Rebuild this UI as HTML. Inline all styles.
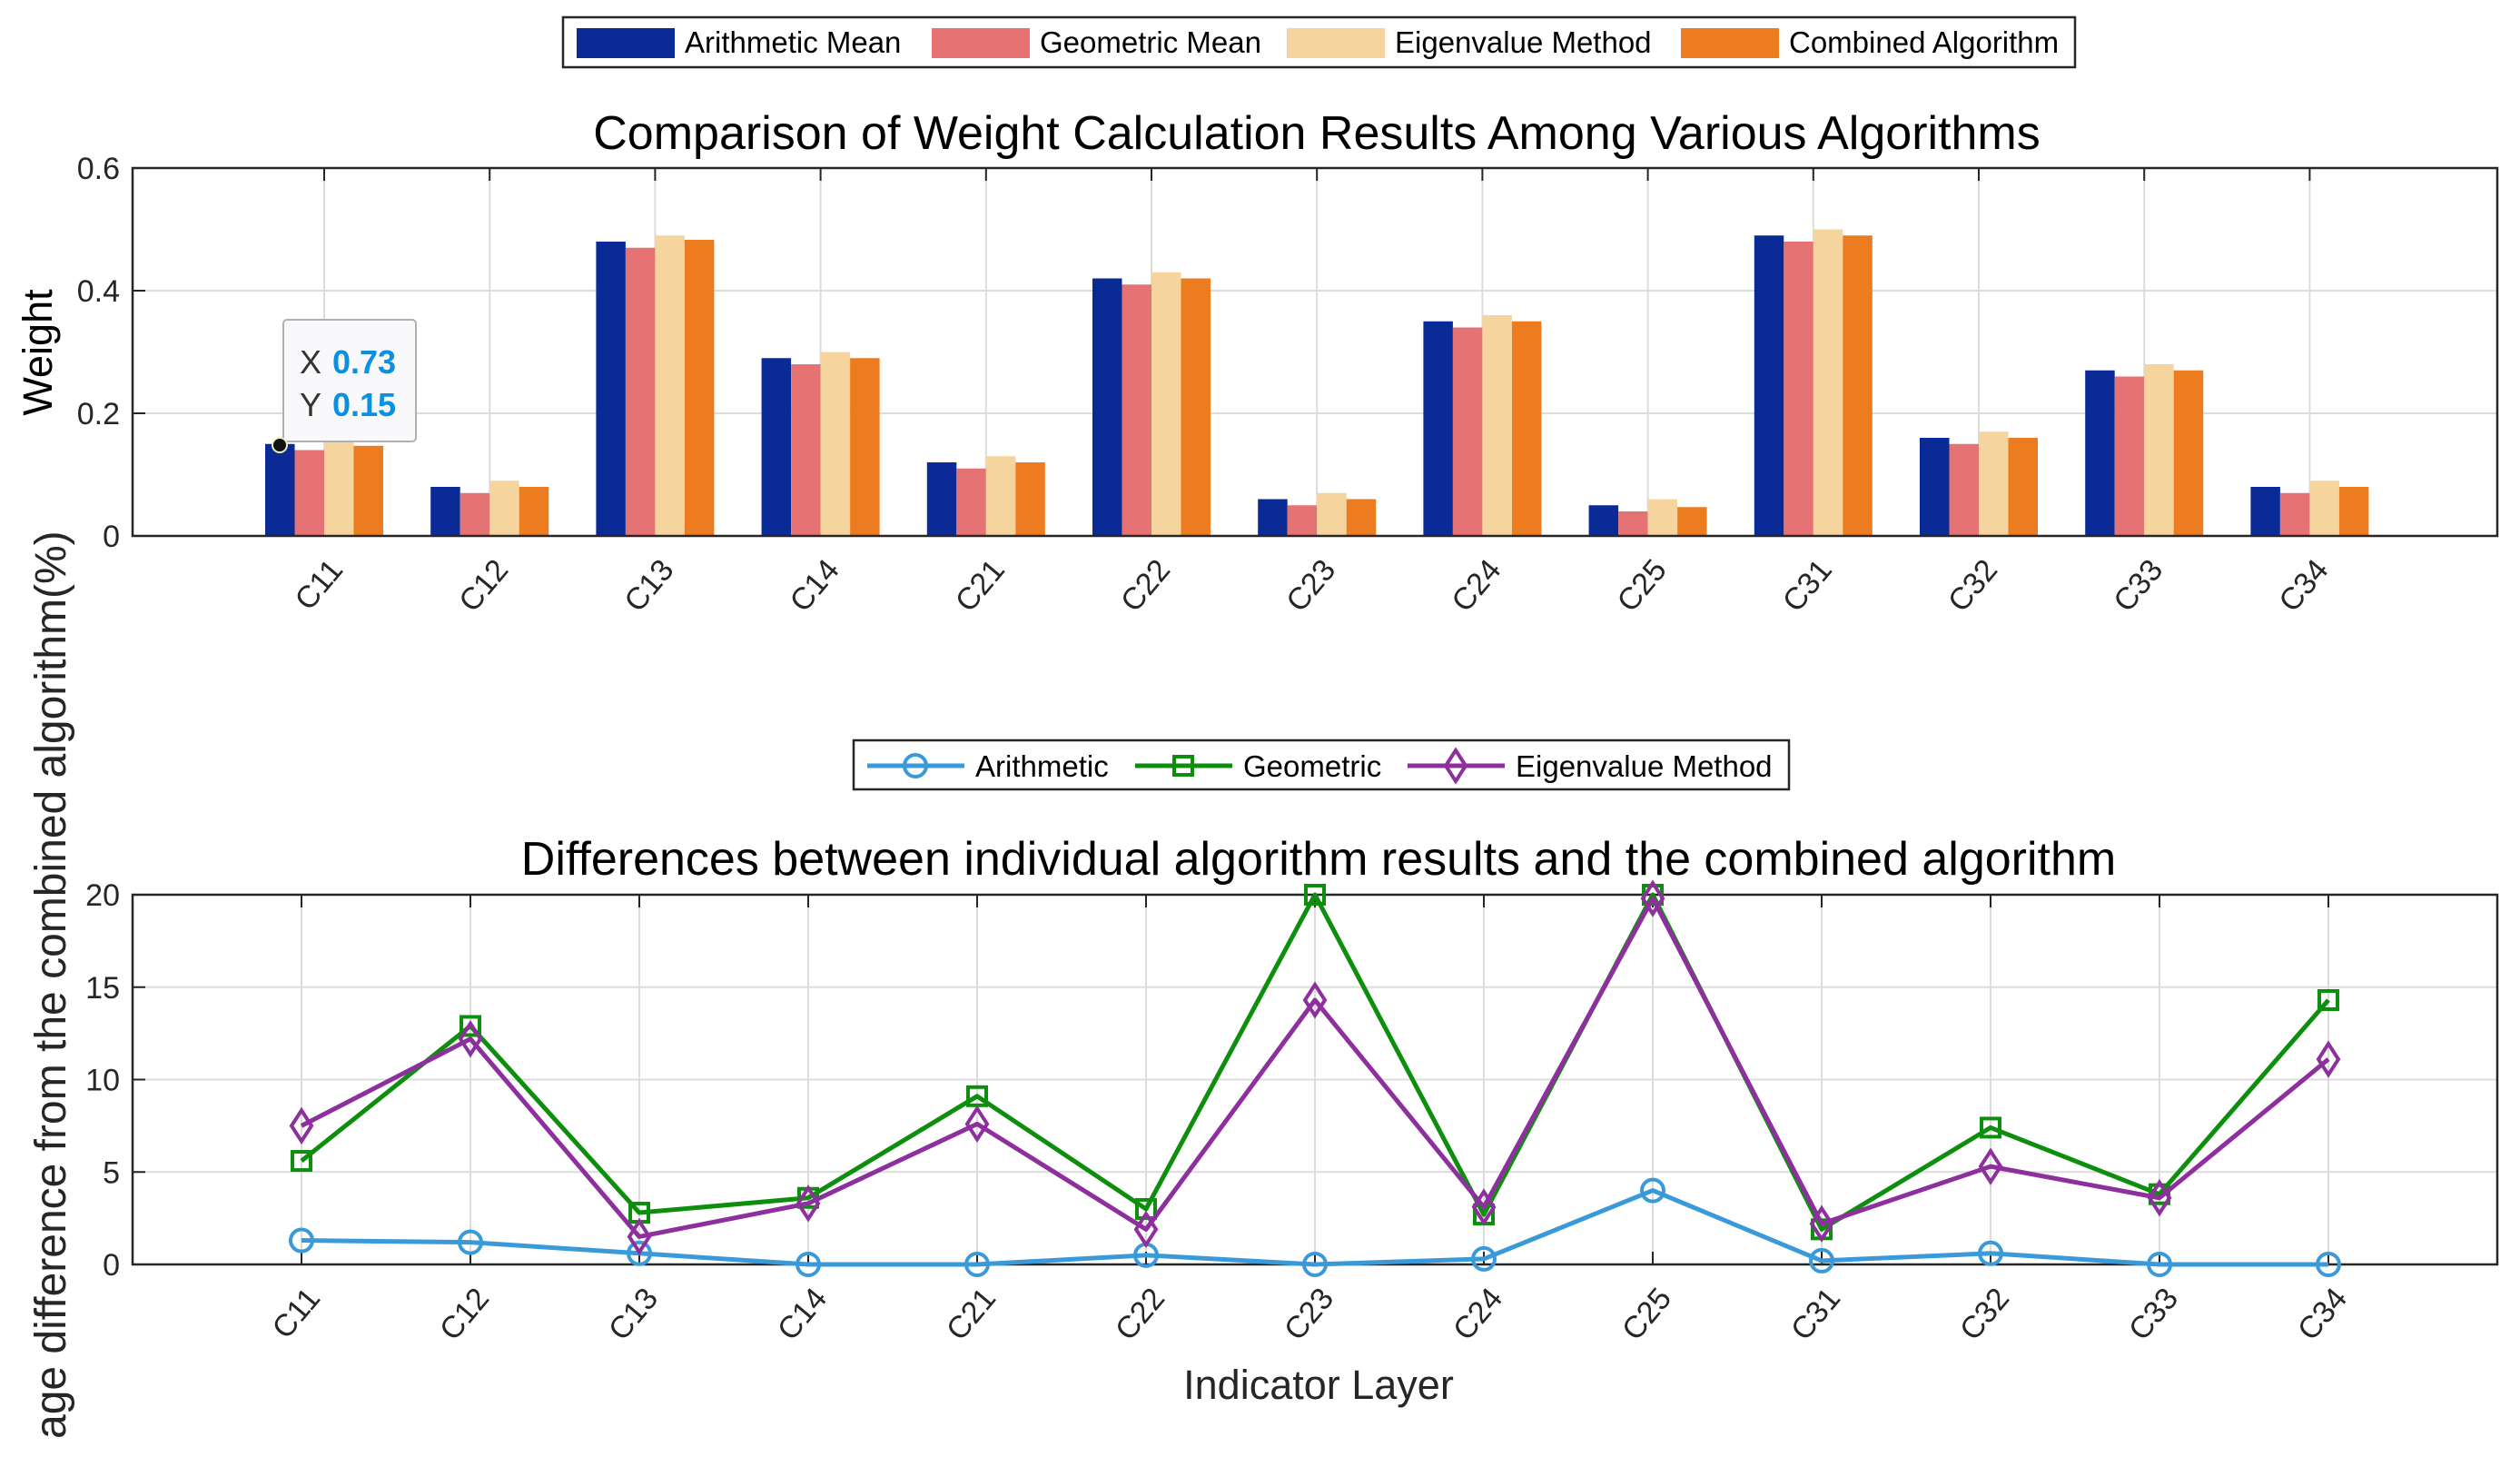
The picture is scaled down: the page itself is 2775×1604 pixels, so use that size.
<!DOCTYPE html>
<html><head><meta charset="utf-8"><style>
html,body{margin:0;padding:0;background:#fff;}
svg{display:block;font-family:"Liberation Sans",Arial,sans-serif;}
</style></head><body>
<svg id="fig" width="2775" height="1604" viewBox="0 0 2775 1604" xmlns="http://www.w3.org/2000/svg">
<rect width="2775" height="1604" fill="#fff"/>
<g id="top"></g>
<g id="bot"></g>
</svg>
<script>
const categories=["C11","C12","C13","C14","C21","C22","C23","C24","C25","C31","C32","C33","C34"];
const arithMean=[0.15,0.08,0.48,0.29,0.12,0.42,0.06,0.35,0.05,0.49,0.16,0.27,0.08];
const geoMean=[0.14,0.07,0.47,0.28,0.11,0.41,0.05,0.34,0.04,0.48,0.15,0.26,0.07];
const eigenMean=[0.16,0.09,0.49,0.30,0.13,0.43,0.07,0.36,0.06,0.50,0.17,0.28,0.09];
const combined=[0.147,0.08,0.483,0.29,0.12,0.42,0.06,0.35,0.047,0.49,0.16,0.27,0.08];
const topTicks=[0,0.2,0.4,0.6];
const diffArith=[1.3,1.2,0.6,0,0,0.5,0,0.3,4.0,0.2,0.6,0,0];
const diffGeo=[5.6,12.9,2.8,3.6,9.1,3.0,20,2.7,20,1.9,7.4,3.8,14.3];
const diffEigen=[7.5,12.2,1.5,3.3,7.6,1.9,14.3,3.1,19.8,2.2,5.3,3.6,11.1];
const botTicks=[0,5,10,15,20];

const NS="http://www.w3.org/2000/svg";
function mk(p,tag,a,txt){const e=document.createElementNS(NS,tag);for(const k in a)e.setAttribute(k,a[k]);if(txt!==undefined)e.textContent=txt;p.appendChild(e);return e;}

// ---- TOP ----
const T=document.getElementById('top');
const tL=146,tR=2750,tT=185,tB=590;
const tx=i=>357+i*182.2, ty=v=>tB-(v/0.6)*(tB-tT);
let g;
g=mk(T,'rect',{x:tL,y:tT,width:tR-tL,height:tB-tT,fill:'#fff'});


topTicks.forEach(v=>{ if(v>0&&v<0.6){mk(T,'line',{x1:tL,x2:tR,y1:ty(v),y2:ty(v),stroke:'#dcdcdc','stroke-width':2});}
  const t=mk(T,'text',{x:132,y:ty(v)+12,'text-anchor':'end','font-size':34,fill:'#262626'},String(v));
  
  
  mk(T,'line',{x1:tL,x2:tL+14,y1:ty(v),y2:ty(v),stroke:'#262626','stroke-width':2});
});
categories.forEach((c,i)=>{mk(T,'line',{x1:tx(i),x2:tx(i),y1:tT,y2:tB,stroke:'#dcdcdc','stroke-width':2});
  mk(T,'line',{x1:tx(i),x2:tx(i),y1:tT,y2:tT+14,stroke:'#262626','stroke-width':2});});
const series=[[arithMean,'#0a2a96'],[geoMean,'#e57373'],[eigenMean,'#f6d49e'],[combined,'#ec7c1f']];
const bw=32.5;
series.forEach((s,k)=>{s[0].forEach((v,i)=>{
  const b=mk(T,'rect',{x:tx(i)-2*bw+k*bw,y:ty(v),width:bw,height:tB-ty(v),fill:s[1]});
  
  
});});
mk(T,'rect',{x:tL,y:tT,width:tR-tL,height:tB-tT,fill:'none',stroke:'#262626','stroke-width':2.5});
categories.forEach((c,i)=>{const t=mk(T,'text',{x:0,y:0,'font-size':34,fill:'#262626','text-anchor':'end',transform:`translate(${tx(i)+22},${tB+38}) rotate(-50)`},c);
  
  });
g=mk(T,'text',{x:1450,y:164,'text-anchor':'middle','font-size':52,fill:'#000'},'Comparison of Weight Calculation Results Among Various Algorithms');


g=mk(T,'text',{x:0,y:0,'text-anchor':'middle','font-size':45,fill:'#000',transform:'translate(57,388) rotate(-90)'},'Weight');


// tooltip
g=mk(T,'g',{});


mk(g,'rect',{x:312,y:352,width:146,height:134,rx:4,fill:'#f9f9fc',stroke:'#b0b0b0','stroke-width':2});
mk(g,'text',{x:330,y:411,'font-size':36,fill:'#333'},'X');
mk(g,'text',{x:366,y:411,'font-size':36,fill:'#0b8fe0','font-weight':'bold'},'0.73');
mk(g,'text',{x:330,y:458,'font-size':36,fill:'#333'},'Y');
mk(g,'text',{x:366,y:458,'font-size':36,fill:'#0b8fe0','font-weight':'bold'},'0.15');
mk(g,'circle',{cx:308,cy:490,r:8,fill:'#111',stroke:'#eeeebb','stroke-width':2});
// legend top
g=mk(T,'g',{});


mk(g,'rect',{x:620,y:19,width:1665,height:55,fill:'#fff',stroke:'#262626','stroke-width':2.5});
const lg=[['Arithmetic Mean',635],['Geometric Mean',1026],['Eigenvalue Method',1417],['Combined Algorithm',1851]];
lg.forEach((l,k)=>{const e=mk(g,'g',{});
  
  
  mk(e,'rect',{x:l[1],y:31,width:108,height:33,fill:series[k][1]});
  mk(e,'text',{x:l[1]+119,y:58,'font-size':33,fill:'#000'},l[0]);});

// ---- BOTTOM ----
const B=document.getElementById('bot');
const bL=146,bR=2750,bT=985,bB=1392;
const bx=i=>332+i*186, by=v=>bB-(v/20)*(bB-bT);
botTicks.forEach(v=>{ if(v>0&&v<20)mk(B,'line',{x1:bL,x2:bR,y1:by(v),y2:by(v),stroke:'#dcdcdc','stroke-width':2});
  const t=mk(B,'text',{x:132,y:by(v)+12,'text-anchor':'end','font-size':34,fill:'#262626'},String(v));
  
  
  mk(B,'line',{x1:bL,x2:bL+14,y1:by(v),y2:by(v),stroke:'#262626','stroke-width':2});});
categories.forEach((c,i)=>{mk(B,'line',{x1:bx(i),x2:bx(i),y1:bT,y2:bB,stroke:'#dcdcdc','stroke-width':2});
  mk(B,'line',{x1:bx(i),x2:bx(i),y1:bT,y2:bT+14,stroke:'#262626','stroke-width':2});
  mk(B,'line',{x1:bx(i),x2:bx(i),y1:bB,y2:bB-14,stroke:'#262626','stroke-width':2});});
mk(B,'rect',{x:bL,y:bT,width:bR-bL,height:bB-bT,fill:'none',stroke:'#262626','stroke-width':2.5});
function marker(p,type,x,y,col){
  if(type==='o')return mk(p,'circle',{cx:x,cy:y,r:12,fill:'none',stroke:col,'stroke-width':4});
  if(type==='s')return mk(p,'rect',{x:x-10,y:y-10,width:20,height:20,fill:'none',stroke:col,'stroke-width':4});
  return mk(p,'path',{d:`M${x} ${y-17}L${x+11} ${y}L${x} ${y+17}L${x-11} ${y}Z`,fill:'none',stroke:col,'stroke-width':4});
}
const lines=[[diffArith,'#3a9ad9','o','arithmetic'],[diffGeo,'#0d8f0d','s','geometric'],[diffEigen,'#8e2f9e','d','eigenvalue']];
lines.forEach(L=>{const grp=mk(B,'g',{});
  
  
  mk(grp,'polyline',{points:L[0].map((v,i)=>bx(i)+','+by(v)).join(' '),fill:'none',stroke:L[1],'stroke-width':5,'stroke-linejoin':'round'});
  L[0].forEach((v,i)=>{const m=marker(grp,L[2],bx(i),by(v),L[1]);
    
    });
});
categories.forEach((c,i)=>{const t=mk(B,'text',{x:0,y:0,'font-size':34,fill:'#262626','text-anchor':'end',transform:`translate(${bx(i)+22},${bB+38}) rotate(-50)`},c);
  
  });
g=mk(B,'text',{x:1452,y:963,'text-anchor':'middle','font-size':52,fill:'#000'},'Differences between individual algorithm results and the combined algorithm');


g=mk(B,'text',{x:1452,y:1540,'text-anchor':'middle','font-size':45,fill:'#262626'},'Indicator Layer');


g=mk(B,'text',{x:0,y:0,'text-anchor':'start','font-size':48,fill:'#262626',transform:'translate(72,1584) rotate(-90)'},'age difference from the combined algorithm(%)');


g=mk(B,'g',{});


mk(g,'rect',{x:940,y:815,width:1030,height:54,fill:'#fff',stroke:'#262626','stroke-width':2.5});
const lg2=[['Arithmetic',955],['Geometric',1250],['Eigenvalue Method',1550]];
lg2.forEach((l,k)=>{const e=mk(g,'g',{});
  
  
  mk(e,'line',{x1:l[1],x2:l[1]+107,y1:843,y2:843,stroke:lines[k][1],'stroke-width':5});
  marker(e,lines[k][2],l[1]+53,843,lines[k][1]);
  mk(e,'text',{x:l[1]+119,y:855,'font-size':33,fill:'#000'},l[0]);});
</script>
</body></html>
